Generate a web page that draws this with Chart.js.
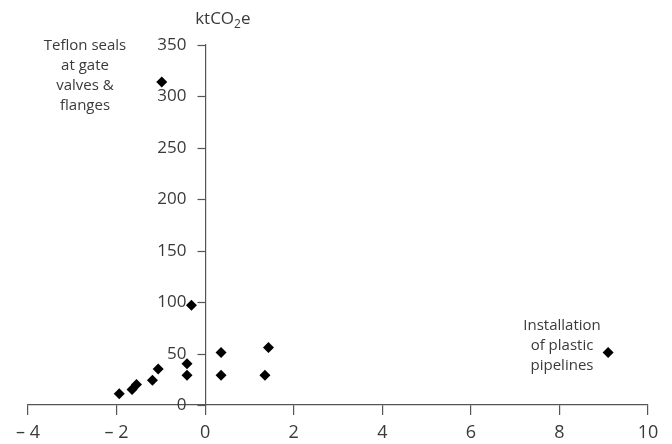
<!DOCTYPE html>
<html>
<head>
<meta charset="utf-8">
<script src="https://cdn.jsdelivr.net/npm/chart.js@4.4.1/dist/chart.umd.min.js"></script>
<style>
  html, body { margin: 0; padding: 0; background: #fff; }
  #wrap { width: 672px; height: 444px; }
</style>
</head>
<body>
<div id="wrap"><canvas id="chart" width="672" height="444"></canvas></div>
<script>
const costValues = [-1.94, -1.65, -1.55, -1.19, -1.06, -0.41, -0.41, -0.31, 0.36, 0.36, 1.35, 1.43, -0.98, 9.1];
const emissionValues = [11, 15, 20, 24, 35, 40, 29, 97, 51, 29, 29, 56, 314, 51];
const xTicks = [-4, -2, 0, 2, 4, 6, 8, 10];
const yTicks = [0, 50, 100, 150, 200, 250, 300, 350];
const tefLabel = ['Teflon seals', 'at gate', 'valves &', 'flanges'];
const plasticLabel = ['Installation', 'of plastic', 'pipelines'];

const textColor = '#3a3a3a';
const axisColor = '#555';
const font = '"Open Sans", "Noto Sans", sans-serif';

const points = costValues.map((x, i) => ({ x: x, y: emissionValues[i] }));

// y axis sits at x = 0, so its ticks and labels are drawn here
const yAxisDecor = {
    id: 'yAxisDecor',
    afterDraw(chart) {
        const ctx = chart.ctx;
        const xs = chart.scales.x, ys = chart.scales.y;
        const ax = Math.round(xs.getPixelForValue(0)) + 0.5;
        ctx.save();
        ctx.strokeStyle = axisColor;
        ctx.lineWidth = 1.2;
        ctx.fillStyle = textColor;
        ctx.font = '17px ' + font;
        ctx.textAlign = 'right';
        ctx.textBaseline = 'middle';
        yTicks.forEach(v => {
            const py = Math.round(ys.getPixelForValue(v)) + 0.5;
            ctx.beginPath();
            ctx.moveTo(ax - 8, py);
            ctx.lineTo(ax, py);
            ctx.stroke();
            ctx.fillText(String(v), ax - 19, py);
        });
        ctx.restore();
    }
};

const notes = {
    id: 'notes',
    afterDraw(chart) {
        const ctx = chart.ctx;
        const xs = chart.scales.x;
        ctx.save();
        ctx.fillStyle = textColor;
        ctx.font = '15px ' + font;
        ctx.textAlign = 'center';
        ctx.textBaseline = 'middle';
        tefLabel.forEach((t, i) => ctx.fillText(t, 85, 46 + i * 20));
        plasticLabel.forEach((t, i) => ctx.fillText(t, 562, 326 + i * 20));

        // axis title with subscript
        const x0 = xs.getPixelForValue(0) - 10;
        const y0 = 24;
        ctx.textAlign = 'left';
        ctx.textBaseline = 'alphabetic';
        ctx.font = '17px ' + font;
        ctx.fillText('ktCO', x0, y0);
        let w = ctx.measureText('ktCO').width;
        ctx.font = '12px ' + font;
        ctx.fillText('2', x0 + w, y0 + 4);
        w += ctx.measureText('2').width;
        ctx.font = '17px ' + font;
        ctx.fillText('e', x0 + w, y0);
        ctx.restore();
    }
};

new Chart(document.getElementById('chart'), {
    type: 'scatter',
    data: {
        datasets: [{
            data: points,
            pointStyle: 'rectRot',
            pointRadius: 5.5,
            backgroundColor: '#000',
            borderColor: '#000',
            borderWidth: 0
        }]
    },
    options: {
        responsive: false,
        animation: false,
        layout: { padding: { top: 45, left: 28, right: 24, bottom: 0 } },
        plugins: { legend: { display: false }, tooltip: { enabled: false } },
        scales: {
            x: {
                type: 'linear',
                position: 'bottom',
                min: -4, max: 10,
                afterBuildTicks(scale) { scale.ticks = xTicks.map(v => ({ value: v })); },
                afterFit(scale) { scale.height = 39; },
                grid: { drawOnChartArea: false, drawTicks: true, tickLength: 10, color: axisColor, lineWidth: 1.2 },
                border: { display: true, color: axisColor, width: 1.2 },
                ticks: {
                    color: textColor,
                    font: { size: 18, family: font },
                    padding: 7,
                    maxRotation: 0,
                    callback: v => v < 0 ? '\u2013 ' + Math.abs(v) : String(v)
                }
            },
            y: {
                type: 'linear',
                position: { x: 0 },
                min: 0, max: 350,
                afterBuildTicks(scale) { scale.ticks = yTicks.map(v => ({ value: v })); },
                grid: { drawOnChartArea: false, drawTicks: false },
                border: { display: true, color: axisColor, width: 1.2 },
                ticks: { display: false }
            }
        }
    },
    plugins: [yAxisDecor, notes]
});
</script>
</body>
</html>
